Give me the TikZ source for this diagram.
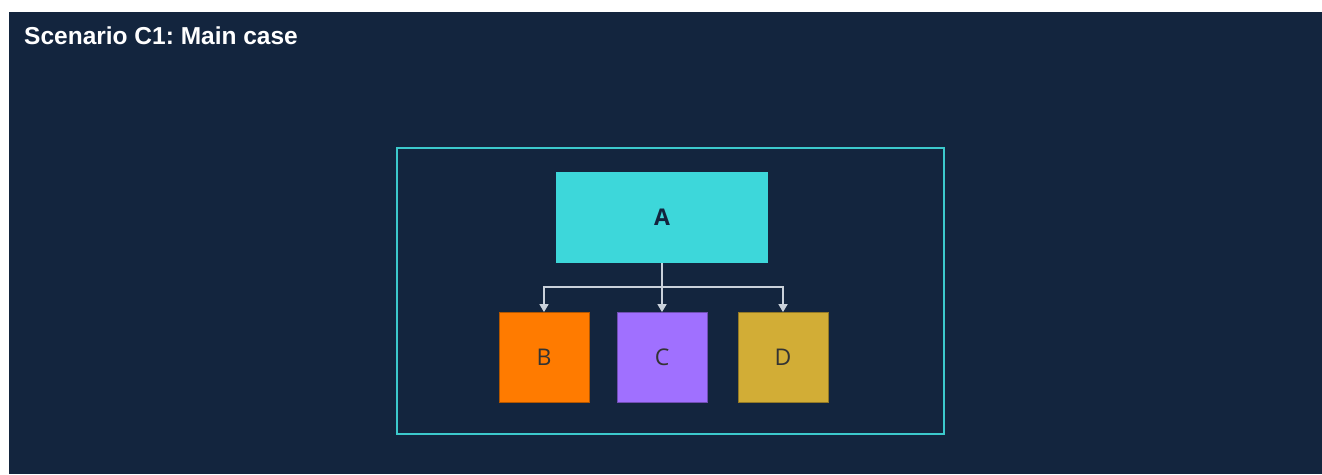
\documentclass[tikz,border=0pt]{standalone}
\usepackage{fontspec}
\setmainfont{Open Sans}
\newfontfamily\titlefont{Liberation Sans}
\usetikzlibrary{arrows.meta}
\frenchspacing

\definecolor{navy}{HTML}{13253E}
\definecolor{frame}{HTML}{3CC9CC}
\definecolor{aqua}{HTML}{3DD7DA}
\definecolor{orng}{HTML}{FF7B00}
\definecolor{purp}{HTML}{A070FF}
\definecolor{gold}{HTML}{D2AD36}
\definecolor{linkgray}{HTML}{C9D1DA}

\begin{document}
\begin{tikzpicture}[x=1pt, y=-1pt,
	every node/.style={font=\fontsize{23}{25}\selectfont, inner sep=0pt},
	box/.style={minimum width=90pt, minimum height=90pt, fill=#1, draw=#1!70!black, line width=0.8pt, text=black!80},
	conn/.style={draw=linkgray, line width=1.6pt, -{Triangle[length=8pt,width=9pt]}}]

% Page and dark panel
\useasboundingbox (0,0) rectangle (1322,474);
\fill[white] (0,0) rectangle (1322,474);
\fill[navy] (9,12) rectangle (1322,474);

% Title
\node[anchor=base west, text=white, font=\titlefont\fontsize{24.5}{27}\selectfont\bfseries] (title) at (24,44) {Scenario C1: Main case};

% Outer frame
\draw[frame, line width=2pt] (397,148) rectangle (944,434);

% Parent box
\node[fill=aqua, minimum width=212pt, minimum height=91pt, text=navy, font=\fontsize{23}{25}\selectfont\bfseries] (a) at (662,217.5) {A};

% Child boxes
\node[box=orng] (b) at (544,357.5) {B};
\node[box=purp] (c) at (662,357.5) {C};
\node[box=gold] (d) at (783,357.5) {D};

% Tree connectors
\coordinate (split) at (662,287);
\foreach \n in {b,c,d} {
	\draw[conn] (a.south) -- (split) -| (\n.north);
}

\end{tikzpicture}
\end{document}
